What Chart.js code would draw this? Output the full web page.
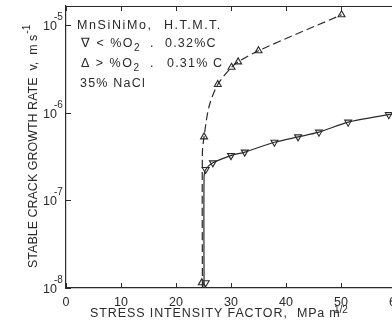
<!DOCTYPE html>
<html><head><meta charset="utf-8">
<script src="https://cdn.jsdelivr.net/npm/chart.js@4.4.0/dist/chart.umd.min.js"></script>
<style>html,body{margin:0;padding:0;overflow:hidden;background:#fff;width:392px;height:331px}canvas{display:block}</style>
</head><body>
<canvas id="c" width="410" height="331"></canvas>
<script>
// tick values / labels
const xTicks = [0, 10, 20, 30, 40, 50, 60];
const yTicks = [1e-8, 1e-7, 1e-6, 1e-5];
const yTickExp = ['-8', '-7', '-6', '-5'];

// ∇ series (< %O2, 0.32%C): markers
const lowX = [25.4, 25.4, 26.7, 30.0, 32.5, 37.9, 42.2, 46.0, 51.3, 58.7];
const lowY = [1.15e-8, 2.25e-7, 2.68e-7, 3.24e-7, 3.55e-7, 4.6e-7, 5.3e-7, 6.0e-7, 7.8e-7, 9.5e-7];
// solid curve through ∇ data
const lowCurveX = [25.1, 25.1, 25.4, 26.7, 30.0, 32.5, 37.9, 42.2, 46.0, 51.3, 58.7, 61];
const lowCurveY = [1e-8, 1.8e-7, 2.25e-7, 2.68e-7, 3.24e-7, 3.55e-7, 4.6e-7, 5.3e-7, 6.0e-7, 7.8e-7, 9.5e-7, 1.0e-6];

// Δ series (> %O2, 0.31%C): markers
const highX = [24.7, 25.1, 27.6, 30.1, 31.3, 35.0, 50.1];
const highY = [1.15e-8, 5.3e-7, 2.1e-6, 3.3e-6, 3.8e-6, 5.1e-6, 1.31e-5];
// dashed curve through Δ data
const highCurveX = [24.8, 24.8, 25.1, 26.0, 27.6, 30.1, 31.3, 35.0, 50.1];
const highCurveY = [1e-8, 3.5e-7, 5.3e-7, 1.17e-6, 2.1e-6, 3.3e-6, 3.8e-6, 5.1e-6, 1.31e-5];

const INK = '#2a2a2a';
const FAM = '"Liberation Sans", Arial, sans-serif';
const pts = (xs, ys) => xs.map((x, i) => ({x: x, y: ys[i]}));

function txt(ctx, s, x, y, size, spacing) {
  ctx.font = size + 'px ' + FAM;
  ctx.letterSpacing = (spacing || 0) + 'px';
  ctx.fillText(s, x, y);
  const w = ctx.measureText(s).width;
  ctx.letterSpacing = '0px';
  return w;
}

const deco = {
  id: 'deco',
  afterDraw(chart) {
    const ctx = chart.ctx, a = chart.chartArea;
    const xs = chart.scales.x, ys = chart.scales.y;
    ctx.save();
    ctx.strokeStyle = INK; ctx.lineWidth = 1;
    // top border
    ctx.beginPath(); ctx.moveTo(a.left, a.top + 0.5); ctx.lineTo(a.right, a.top + 0.5); ctx.stroke();
    // inward ticks
    ctx.beginPath();
    xTicks.forEach(v => {
      const p = Math.round(xs.getPixelForValue(v)) + 0.5;
      ctx.moveTo(p, a.bottom); ctx.lineTo(p, a.bottom - 5);
      ctx.moveTo(p, a.top); ctx.lineTo(p, a.top + 5);
    });
    yTicks.forEach(v => {
      const p = Math.round(ys.getPixelForValue(v)) + 0.5;
      ctx.moveTo(a.left, p); ctx.lineTo(a.left + 5, p);
    });
    ctx.stroke();
    ctx.fillStyle = INK;
    ctx.textBaseline = 'alphabetic';
    ctx.textAlign = 'left';
    // y tick labels 10^n
    yTicks.forEach((v, i) => {
      const p = ys.getPixelForValue(v);
      txt(ctx, '10', 43, p + 5, 12.5, 0);
      txt(ctx, yTickExp[i], 54, p - 5, 10, 0);
    });
    // annotation text
    txt(ctx, 'MnSiNiMo,', 77, 29, 12.5, 1.6);
    txt(ctx, 'H.T.M.T.', 164, 29, 12.5, 1.5);
    let w = txt(ctx, '\u2207 < %O', 81, 47, 12.5, 1.5);
    txt(ctx, '2', 81 + w, 51, 10, 0);
    txt(ctx, '.', 150, 47, 12.5, 0);
    txt(ctx, '0.32%C', 165, 47, 12.5, 1.2);
    w = txt(ctx, '\u0394 > %O', 81, 67, 12.5, 1.5);
    txt(ctx, '2', 81 + w, 71, 10, 0);
    txt(ctx, '.', 150, 67, 12.5, 0);
    txt(ctx, '0.31% C', 167, 67, 12.5, 1.2);
    txt(ctx, '35% NaCl', 80, 87, 12.5, 1.2);
    // x title
    txt(ctx, 'STRESS INTENSITY FACTOR,', 90, 317, 12.5, 0.9);
    txt(ctx, 'MPa m', 297, 317, 12.5, 0.8);
    txt(ctx, '1/2', 334, 313, 10, 0);
    // y title
    ctx.translate(37, 0);
    ctx.rotate(-Math.PI / 2);
    w = txt(ctx, 'STABLE CRACK GROWTH RATE  v,  m s', -268, 0, 12.5, 0);
    txt(ctx, '-1', -268 + w + 1, -7, 10, 0);
    ctx.restore();
  }
};

new Chart(document.getElementById('c'), {
  type: 'scatter',
  data: {
    datasets: [
      {data: pts(lowCurveX, lowCurveY), showLine: true, borderColor: INK, borderWidth: 1.2,
       pointRadius: 0, tension: 0.25, fill: false},
      {data: pts(highCurveX, highCurveY), showLine: true, borderColor: INK, borderWidth: 1.2,
       borderDash: [8, 4], pointRadius: 0, tension: 0.3, fill: false},
      {data: pts(lowX, lowY), showLine: false, pointStyle: 'triangle', pointRotation: 180,
       pointRadius: 4, pointBackgroundColor: '#fff', pointBorderColor: INK, pointBorderWidth: 1.1},
      {data: pts(highX, highY), showLine: false, pointStyle: 'triangle',
       pointRadius: 4, pointBackgroundColor: '#fff', pointBorderColor: INK, pointBorderWidth: 1.1}
    ]
  },
  options: {
    responsive: false,
    animation: false,
    clip: false,
    layout: {padding: {left: 0, top: 6, right: 14, bottom: 0}},
    plugins: {legend: {display: false}, tooltip: {enabled: false}},
    scales: {
      x: {
        type: 'linear', min: 0, max: 60,
        afterFit: s => { s.height = 43; },
        afterBuildTicks: s => { s.ticks = xTicks.map(v => ({value: v})); },
        grid: {display: false, drawTicks: false},
        border: {display: true, color: INK, width: 1.2},
        ticks: {color: INK, font: {family: FAM, size: 12.5}, padding: 7,
                maxRotation: 0, autoSkip: false}
      },
      y: {
        type: 'logarithmic', min: 1e-8, max: 1.65e-5,
        afterFit: s => { s.width = 66; },
        afterBuildTicks: s => { s.ticks = yTicks.map(v => ({value: v})); },
        grid: {display: false, drawTicks: false},
        border: {display: true, color: INK, width: 1.2},
        ticks: {display: false}
      }
    }
  },
  plugins: [deco]
});
</script>
</body></html>
